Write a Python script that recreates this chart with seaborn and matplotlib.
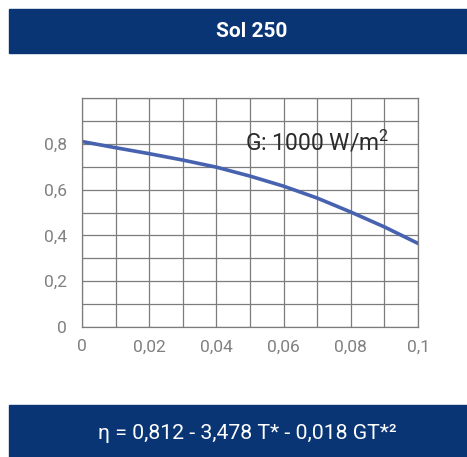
import matplotlib
matplotlib.use("Agg")
import matplotlib.pyplot as plt
import seaborn as sns
import pandas as pd
from matplotlib.patches import Rectangle

# values
t_star = [0.0, 0.01, 0.02, 0.03, 0.04, 0.05, 0.06, 0.07, 0.08, 0.09, 0.1]
eta = [0.81, 0.783, 0.757, 0.729, 0.698, 0.659, 0.615, 0.563, 0.502, 0.437, 0.365]
x_ticks = [0, 0.02, 0.04, 0.06, 0.08, 0.1]
x_labels = ["0", "0,02", "0,04", "0,06", "0,08", "0,1"]
y_ticks = [0, 0.2, 0.4, 0.6, 0.8]
y_labels = ["0", "0,2", "0,4", "0,6", "0,8"]

df = pd.DataFrame({"t": t_star, "eta": eta})

sns.set_style("white")
plt.rcParams["font.family"] = ["Roboto", "DejaVu Sans"]
plt.rcParams["mathtext.fontset"] = "custom"
plt.rcParams["mathtext.rm"] = "Roboto"
plt.rcParams["mathtext.default"] = "regular"

navy = "#0a3575"
fig = plt.figure(figsize=(4.67, 4.57), dpi=100)
ax = fig.add_axes([0.1756, 0.2845, 0.7195, 0.501])

sns.lineplot(data=df, x="t", y="eta", ax=ax, color="#4763b0", linewidth=2.6)

ax.set_xlim(0, 0.1)
ax.set_ylim(0, 1.0)
ax.set_xticks([i / 100 for i in range(11)], minor=True)
ax.set_yticks([i / 10 for i in range(11)], minor=True)
ax.set_xticks(x_ticks)
ax.set_xticklabels(x_labels)
ax.set_yticks(y_ticks)
ax.set_yticklabels(y_labels)
ax.grid(which="both", color="#7c7c7c", linewidth=0.9)
ax.tick_params(which="both", length=0, labelsize=12.5, labelcolor="#808080")
ax.tick_params(axis="x", pad=9)
ax.tick_params(axis="y", pad=11)
for s in ax.spines.values():
    s.set_color("#7c7c7c")
    s.set_linewidth(0.9)
ax.set_xlabel("")
ax.set_ylabel("")

ax.text(0.0485, 0.805, "G: 1000 W/m$^2$", fontsize=16.5, color="#2a2a2a",
        ha="left", va="center")

fig.add_artist(Rectangle((0.019, 0.884), 0.981, 0.096, transform=fig.transFigure,
                         color=navy, zorder=0))
fig.text(0.538, 0.932, "Sol 250", color="white", fontsize=15,
         fontweight="bold", ha="center", va="center")

fig.add_artist(Rectangle((0.019, 0.0), 0.981, 0.114, transform=fig.transFigure,
                         color=navy, zorder=0))
fig.text(0.53, 0.052, "η = 0,812 - 3,478 T* - 0,018 GT*²", color="white",
         fontsize=15.3, ha="center", va="center")

fig.savefig("out.png", dpi=100)
